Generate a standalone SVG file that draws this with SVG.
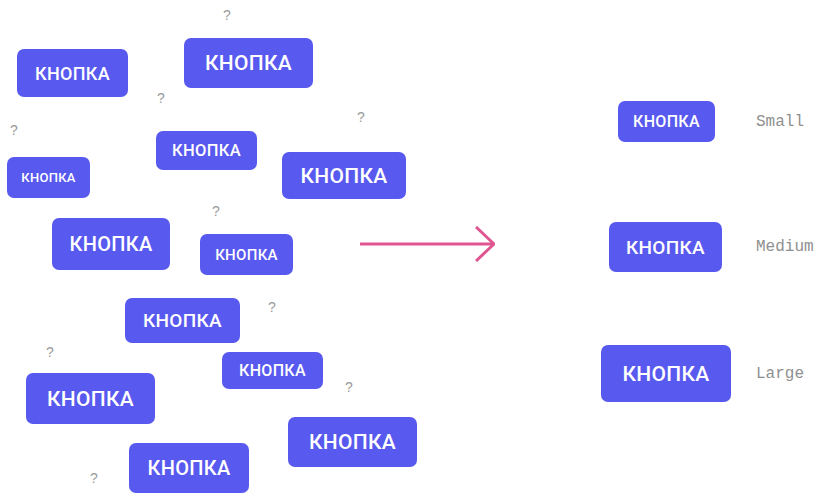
<svg xmlns="http://www.w3.org/2000/svg" width="824" height="496" viewBox="0 0 824 496">
<defs>
<style>
.b rect{fill:#5859EF}
.b text{fill:#fff;font-family:Roboto,"Liberation Sans",sans-serif;font-weight:500;letter-spacing:0.3px;text-anchor:middle;dominant-baseline:central}
.q{fill:#9a9a9a;font-family:"Liberation Sans",sans-serif;font-size:14px;text-anchor:middle;dominant-baseline:central}
.lbl{fill:#8f8f8f;font-family:"Liberation Mono",monospace;font-size:16px;dominant-baseline:central}
</style>
<marker id="ah" viewBox="0 0 20 36" refX="19" refY="18" markerWidth="20" markerHeight="36" markerUnits="userSpaceOnUse" orient="auto">
<path d="M1,1 L19,18 L1,35" fill="none" stroke="#E0558F" stroke-width="3"/>
</marker>
</defs>
<rect width="824" height="496" fill="#fff"/>
<g id="n1" class="b"><rect x="17" y="49" width="111" height="48" rx="7"/><text x="72.5" y="73" font-size="18">КНОПКА</text></g>
<g id="n2" class="b"><rect x="184" y="38" width="129" height="50" rx="7"/><text x="248.5" y="63" font-size="21">КНОПКА</text></g>
<g id="n3" class="b"><rect x="7" y="157" width="83" height="41" rx="7"/><text x="48.5" y="177.5" font-size="13">КНОПКА</text></g>
<g id="n4" class="b"><rect x="156" y="131" width="101" height="39" rx="7"/><text x="206.5" y="150.5" font-size="16.5">КНОПКА</text></g>
<g id="n5" class="b"><rect x="282" y="152" width="124" height="47" rx="7"/><text x="344" y="175.5" font-size="21">КНОПКА</text></g>
<g id="n6" class="b"><rect x="52" y="218" width="118" height="52" rx="7"/><text x="111" y="244" font-size="20">КНОПКА</text></g>
<g id="n7" class="b"><rect x="200" y="234" width="93" height="41" rx="7"/><text x="246.5" y="254.5" font-size="15">КНОПКА</text></g>
<g id="n8" class="b"><rect x="125" y="298" width="115" height="45" rx="7"/><text x="182.5" y="320.5" font-size="19">КНОПКА</text></g>
<g id="n9" class="b"><rect x="222" y="352" width="101" height="37" rx="7"/><text x="272.5" y="370.5" font-size="16">КНОПКА</text></g>
<g id="n10" class="b"><rect x="26" y="373" width="129" height="51" rx="7"/><text x="90.5" y="398.5" font-size="21">КНОПКА</text></g>
<g id="n11" class="b"><rect x="288" y="417" width="129" height="50" rx="7"/><text x="352.5" y="441.5" font-size="21">КНОПКА</text></g>
<g id="n12" class="b"><rect x="129" y="443" width="120" height="50" rx="7"/><text x="189" y="468" font-size="20">КНОПКА</text></g>
<g id="q">
<text class="q" x="227" y="15">?</text>
<text class="q" x="161" y="98">?</text>
<text class="q" x="14" y="130">?</text>
<text class="q" x="361" y="117">?</text>
<text class="q" x="216" y="211">?</text>
<text class="q" x="272" y="307">?</text>
<text class="q" x="50" y="352">?</text>
<text class="q" x="349" y="387">?</text>
<text class="q" x="94" y="478">?</text>
</g>
<g id="connectors">
<line x1="360" y1="244" x2="494" y2="244" stroke="#E0558F" stroke-width="3" marker-end="url(#ah)"/>
</g>
<g id="small" class="b"><rect x="618" y="101" width="97" height="41" rx="7"/><text x="666.5" y="121.5" font-size="16">КНОПКА</text></g>
<g id="medium" class="b"><rect x="609" y="222" width="113" height="50" rx="7"/><text x="665.5" y="247" font-size="19">КНОПКА</text></g>
<g id="large" class="b"><rect x="601" y="345" width="130" height="57" rx="7"/><text x="666" y="373.5" font-size="21">КНОПКА</text></g>
<g id="labels">
<text class="lbl" x="756" y="122">Small</text>
<text class="lbl" x="756" y="247">Medium</text>
<text class="lbl" x="756" y="374">Large</text>
</g>
</svg>
